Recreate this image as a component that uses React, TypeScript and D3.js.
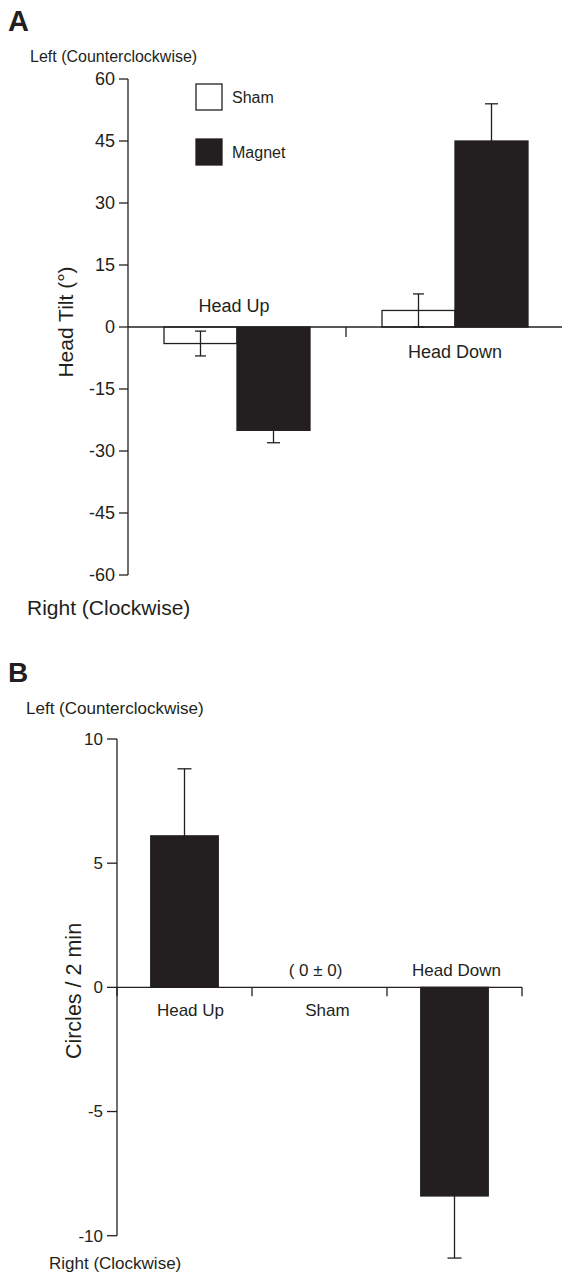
import React from "react";
import * as d3 from "d3";

// ---------- Panel A data ----------
const groupsA = ["Head Up", "Head Down"];
const seriesA = ["Sham", "Magnet"];
const shamMeansA = [-4, 4];
const shamErrA = [3, 4];
const magnetMeansA = [-25, 45];
const magnetErrA = [3, 9];
const ticksA = [60, 45, 30, 15, 0, -15, -30, -45, -60];

// ---------- Panel B data ----------
const catsB = ["Head Up", "Sham", "Head Down"];
const meansB = [6.1, 0, -8.4];
const errB = [2.7, 0, 2.5];
const ticksB = [10, 5, 0, -5, -10];

const INK = "#231f20";
const FONT = "'Liberation Sans', Arial, Helvetica, sans-serif";

function ErrorBar({ x, y1, y2, cap }: { x: number; y1: number; y2: number; cap: number }) {
  return (
    <g stroke={INK} strokeWidth={1.3}>
      <line x1={x} x2={x} y1={y1} y2={y2} />
      <line x1={x - cap} x2={x + cap} y1={y1} y2={y1} />
      <line x1={x - cap} x2={x + cap} y1={y2} y2={y2} />
    </g>
  );
}

export default function App() {
  // Panel A scales
  const yA = d3.scaleLinear().domain([-60, 60]).range([575, 79]);
  const xA = d3.scaleBand().domain(groupsA).range([128, 564]).padding(0);
  const barWA = 73;
  const xSubA = d3.scaleBand().domain(seriesA).range([-barWA, barWA]).padding(0);
  const seriesDataA = [
    { name: "Sham", means: shamMeansA, errs: shamErrA, fill: "#ffffff", cap: 5.5 },
    { name: "Magnet", means: magnetMeansA, errs: magnetErrA, fill: INK, cap: 6.5 },
  ];

  // Panel B scales
  const yB = d3.scaleLinear().domain([-10, 10]).range([1235.7, 739]);
  const xB = d3.scaleBand().domain(catsB).range([117, 522]).padding(0);
  const bwB = xB.bandwidth() * 0.5;

  const tickBoundsB = [...catsB.map((c) => xB(c) as number), 522];

  return (
    <svg
      width={563}
      height={1274}
      style={{ position: "absolute", left: 0, top: 0, background: "#fff" }}
      fontFamily={FONT}
      fill={INK}
    >
      {/* ================= Panel A ================= */}
      <text x={8} y={31} fontSize={29} fontWeight="bold">A</text>
      <text x={30} y={62} fontSize={16}>Left (Counterclockwise)</text>
      <text x={27} y={615} fontSize={21}>Right (Clockwise)</text>
      <text transform={`translate(73,322) rotate(-90)`} textAnchor="middle" fontSize={21}>
        Head Tilt (°)
      </text>

      {/* y axis */}
      <line x1={128} x2={128} y1={yA(60)} y2={yA(-60)} stroke={INK} strokeWidth={1.3} />
      {ticksA.map((t) => (
        <g key={t}>
          <line x1={119} x2={128} y1={yA(t)} y2={yA(t)} stroke={INK} strokeWidth={1.3} />
          <text x={115} y={yA(t)} dy="0.35em" textAnchor="end" fontSize={18}>
            {t}
          </text>
        </g>
      ))}

      {/* bars A */}
      {seriesDataA.map((s) =>
        groupsA.map((g, i) => {
          const cx = (xA(g) as number) + xA.bandwidth() / 2;
          const x0 = cx + (xSubA(s.name) as number);
          const v = s.means[i];
          return (
            <rect
              key={s.name + g}
              x={x0}
              width={xSubA.bandwidth()}
              y={Math.min(yA(v), yA(0))}
              height={Math.abs(yA(v) - yA(0))}
              fill={s.fill}
              stroke={INK}
              strokeWidth={1.3}
            />
          );
        })
      )}
      {seriesDataA.map((s) =>
        groupsA.map((g, i) => {
          const cx = (xA(g) as number) + xA.bandwidth() / 2;
          const bx = cx + (xSubA(s.name) as number) + xSubA.bandwidth() / 2;
          const v = s.means[i];
          const e = s.errs[i];
          return (
            <ErrorBar key={"e" + s.name + g} x={bx} y1={yA(v + e)} y2={yA(v - e)} cap={s.cap} />
          );
        })
      )}

      {/* zero line A */}
      <line x1={128} x2={562} y1={yA(0)} y2={yA(0)} stroke={INK} strokeWidth={1.3} />
      <line x1={xA("Head Down") as number} x2={xA("Head Down") as number} y1={yA(0)} y2={yA(0) + 10} stroke={INK} strokeWidth={1.3} />

      {/* group labels A */}
      <text x={(xA("Head Up") as number) + xA.bandwidth() / 2 - 3} y={yA(0) - 15} textAnchor="middle" fontSize={18}>
        {groupsA[0]}
      </text>
      <text x={(xA("Head Down") as number) + xA.bandwidth() / 2} y={yA(0) + 31} textAnchor="middle" fontSize={18}>
        {groupsA[1]}
      </text>

      {/* legend A */}
      {seriesDataA.map((s, i) => (
        <g key={"lg" + s.name}>
          <rect x={196} y={84 + i * 55} width={26} height={26} fill={s.fill} stroke={INK} strokeWidth={1.3} />
          <text x={232} y={97 + i * 55} dy="0.35em" fontSize={16}>
            {s.name}
          </text>
        </g>
      ))}

      {/* ================= Panel B ================= */}
      <text x={8} y={682} fontSize={28} fontWeight="bold">B</text>
      <text x={26} y={714} fontSize={17}>Left (Counterclockwise)</text>
      <text x={49} y={1269} fontSize={17}>Right (Clockwise)</text>
      <text transform={`translate(81,991) rotate(-90)`} textAnchor="middle" fontSize={21.5}>
        Circles / 2 min
      </text>

      {/* y axis B */}
      <line x1={117} x2={117} y1={yB(10)} y2={yB(-10)} stroke={INK} strokeWidth={1.3} />
      {ticksB.map((t) => (
        <g key={"b" + t}>
          <line x1={107} x2={117} y1={yB(t)} y2={yB(t)} stroke={INK} strokeWidth={1.3} />
          <text x={103} y={yB(t)} dy="0.35em" textAnchor="end" fontSize={17}>
            {t}
          </text>
        </g>
      ))}

      {/* bars B */}
      {catsB.map((c, i) => {
        const x0 = (xB(c) as number) + (xB.bandwidth() - bwB) / 2;
        const v = meansB[i];
        return (
          <rect
            key={"bb" + c}
            x={x0}
            width={bwB}
            y={Math.min(yB(v), yB(0))}
            height={Math.abs(yB(v) - yB(0))}
            fill={INK}
            stroke={INK}
            strokeWidth={1.3}
          />
        );
      })}
      {catsB.map((c, i) => {
        if (errB[i] === 0) return null;
        const cx = (xB(c) as number) + xB.bandwidth() / 2;
        const v = meansB[i];
        const e = errB[i];
        return <ErrorBar key={"be" + c} x={cx} y1={yB(v + e)} y2={yB(v - e)} cap={7} />;
      })}

      {/* zero line B with ticks */}
      <line x1={117} x2={522} y1={yB(0)} y2={yB(0)} stroke={INK} strokeWidth={1.3} />
      {tickBoundsB.map((tx, i) => (
        <line key={"tb" + i} x1={tx} x2={tx} y1={yB(0)} y2={yB(0) + 9} stroke={INK} strokeWidth={1.3} />
      ))}

      {/* category labels B */}
      <text x={(xB("Head Up") as number) + xB.bandwidth() / 2 + 6} y={yB(0) + 29} textAnchor="middle" fontSize={17}>
        {catsB[0]}
      </text>
      <text x={(xB("Sham") as number) + xB.bandwidth() / 2 + 8} y={yB(0) + 29} textAnchor="middle" fontSize={17}>
        {catsB[1]}
      </text>
      <text x={(xB("Sham") as number) + xB.bandwidth() / 2 - 4} y={yB(0) - 11} textAnchor="middle" fontSize={17}>
        ( 0 ± 0)
      </text>
      <text x={(xB("Head Down") as number) + xB.bandwidth() / 2 + 2} y={yB(0) - 11} textAnchor="middle" fontSize={17}>
        {catsB[2]}
      </text>
    </svg>
  );
}
